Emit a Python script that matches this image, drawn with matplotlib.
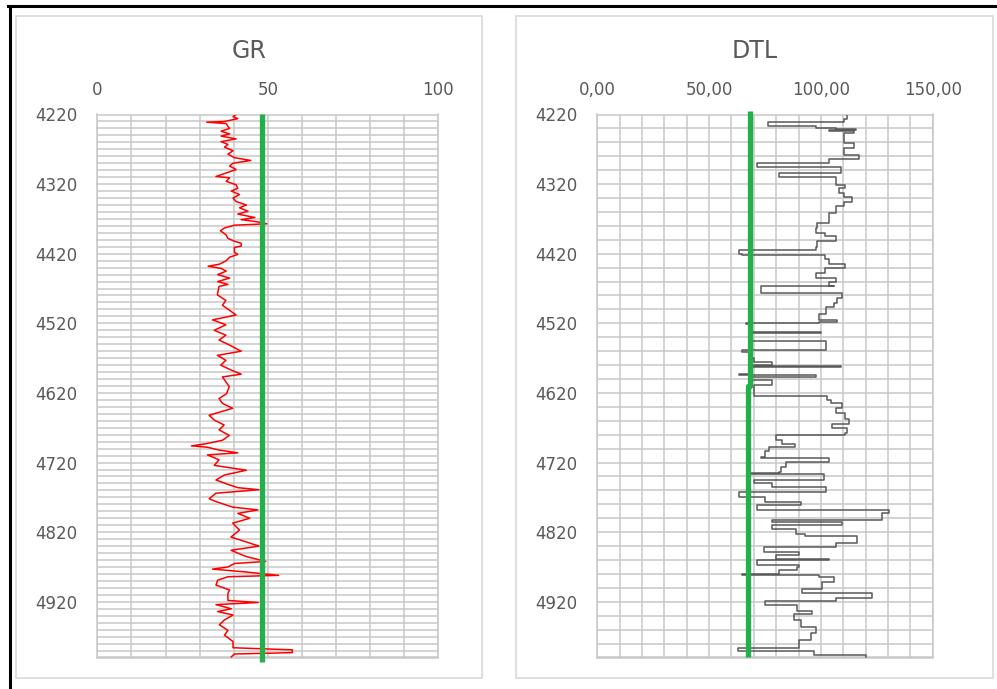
import matplotlib.pyplot as plt
from matplotlib.patches import Rectangle
from matplotlib.lines import Line2D
from matplotlib.ticker import FuncFormatter

# Gamma ray log: depth (m) and GR (API)
gr_depth = [4220, 4223, 4226, 4230, 4231, 4233, 4237, 4240, 4244, 4248, 4251, 4255,
            4259, 4263, 4267, 4272, 4277, 4282, 4286, 4290, 4294, 4299, 4304, 4309,
            4311, 4316, 4321, 4326, 4330, 4335, 4340, 4345, 4350, 4354, 4359, 4363,
            4368, 4371, 4374, 4377, 4379, 4383, 4387, 4393, 4398, 4402, 4405, 4409,
            4411, 4418, 4421, 4425, 4430, 4435, 4438, 4441, 4445, 4450, 4455, 4460,
            4464, 4467, 4479, 4487, 4494, 4501, 4508, 4515, 4522, 4530, 4537, 4544,
            4551, 4560, 4566, 4573, 4580, 4587, 4593, 4597, 4604, 4611, 4621, 4628,
            4635, 4642, 4652, 4659, 4666, 4673, 4681, 4688, 4693, 4696, 4698, 4702,
            4706, 4709, 4716, 4724, 4731, 4738, 4745, 4752, 4756, 4759, 4764, 4772,
            4776, 4784, 4788, 4793, 4800, 4807, 4817, 4827, 4834, 4840, 4846, 4855,
            4862, 4865, 4870, 4873, 4877, 4882, 4884, 4889, 4896, 4903, 4908, 4918,
            4921, 4924, 4930, 4934, 4939, 4946, 4953, 4961, 4968, 4977, 4986, 4989,
            4993, 4995, 4999]
gr_value = [40.7, 39.8, 41.2, 37.3, 32.1, 37.8, 38.3, 38.8, 36.3, 38.8, 36.3, 40.7,
            36.3, 38.3, 37.3, 39.8, 38.3, 40.2, 45.0, 39.8, 38.8, 40.7, 37.8, 34.8,
            38.8, 37.8, 40.7, 41.2, 39.3, 41.7, 39.8, 40.7, 43.7, 41.7, 44.2, 41.2,
            46.2, 42.2, 46.7, 49.7, 40.2, 37.3, 36.1, 37.8, 38.3, 40.2, 42.2, 42.2,
            40.2, 40.2, 41.2, 38.8, 37.8, 35.8, 32.5, 36.3, 37.8, 35.3, 38.8, 35.3,
            38.3, 35.7, 35.2, 37.7, 36.7, 38.7, 40.7, 33.8, 37.7, 34.3, 37.7, 35.7,
            38.7, 42.2, 35.2, 37.7, 36.2, 39.2, 42.2, 36.7, 37.7, 38.7, 37.9, 35.7,
            36.7, 39.7, 32.8, 34.3, 37.2, 35.7, 38.7, 36.7, 31.8, 27.6, 32.3, 35.7,
            41.2, 32.3, 35.7, 34.3, 43.7, 37.2, 34.8, 38.7, 41.2, 47.4, 34.8, 32.8,
            34.8, 39.7, 47.1, 41.2, 44.7, 39.7, 41.7, 39.2, 43.7, 47.4, 39.2, 43.7,
            49.4, 40.2, 38.3, 33.8, 43.2, 53.2, 38.3, 35.3, 34.8, 38.8, 38.3, 38.3,
            47.2, 34.8, 39.3, 35.3, 39.8, 37.3, 35.8, 38.3, 37.3, 39.8, 39.8, 57.2,
            57.2, 40.2, 39.3]
gr_cutoff = 48.3

# Sonic log: depth (m) and DTL (us/ft)
dtl_depth = [4220, 4227, 4231, 4231, 4236, 4236, 4239, 4241, 4242, 4243, 4247, 4259,
             4261, 4266, 4268, 4275, 4278, 4283, 4283.5, 4290, 4290, 4294, 4296, 4303,
             4304, 4309, 4310, 4318, 4321, 4326, 4333, 4339, 4345, 4352, 4362, 4369,
             4376, 4383, 4390, 4395, 4402, 4411, 4414, 4421, 4422, 4428, 4435, 4440,
             4448, 4455, 4460, 4466, 4466, 4476, 4476, 4484, 4491, 4496, 4506, 4515,
             4518, 4519, 4521, 4530, 4533, 4534, 4544, 4545, 4556, 4558, 4561, 4570,
             4575, 4580, 4581, 4583, 4593, 4594, 4597, 4601, 4609, 4623, 4624, 4630,
             4635, 4642, 4649, 4657, 4664, 4671, 4678, 4681, 4688, 4694, 4697, 4704,
             4712, 4714, 4719, 4726, 4733, 4735, 4736, 4745, 4750, 4755, 4762, 4769,
             4776, 4781, 4788, 4793, 4802, 4805, 4810, 4815, 4822, 4826, 4836, 4841,
             4848, 4853, 4858, 4860, 4867, 4870, 4875, 4880, 4882, 4885, 4891, 4901,
             4907, 4914, 4915, 4919, 4925, 4933, 4937, 4946, 4956, 4965, 4975, 4986,
             4990, 4997, 4999]
dtl_value = [111.8, 110.3, 110.3, 76.4, 76.4, 97.6, 106.6, 115.5, 103.6, 114.8, 110.3, 110.3,
             114.8, 114.8, 110.3, 110.3, 117.0, 117.0, 103.6, 103.6, 71.5, 71.5, 108.8, 108.8,
             81.2, 81.2, 106.6, 106.6, 111.0, 108.0, 110.3, 114.0, 110.3, 106.6, 103.6, 103.6,
             98.4, 97.6, 102.0, 106.6, 98.4, 98.0, 63.3, 64.8, 102.0, 103.6, 111.0, 102.0,
             97.6, 106.6, 103.6, 105.8, 73.0, 73.0, 109.6, 107.3, 105.8, 102.1, 99.1, 107.3,
             99.1, 66.3, 69.3, 69.3, 99.9, 69.3, 69.3, 102.1, 102.1, 64.8, 69.3, 70.0,
             78.2, 70.0, 108.8, 69.3, 63.3, 97.6, 69.3, 78.2, 70.0, 70.0, 102.8, 104.3,
             109.6, 106.6, 111.0, 112.5, 105.0, 111.8, 111.0, 80.0, 82.7, 88.4, 76.7, 75.2,
             73.0, 103.6, 84.2, 82.0, 81.2, 67.8, 101.3, 70.0, 78.2, 102.1, 63.3, 75.2,
             90.9, 71.5, 130.4, 127.5, 78.2, 109.6, 78.2, 88.7, 93.1, 116.3, 106.6, 74.5,
             90.1, 79.7, 103.6, 71.5, 90.1, 89.4, 81.2, 64.8, 99.1, 105.8, 100.6, 91.6,
             123.0, 123.0, 106.6, 74.9, 89.4, 96.1, 87.9, 90.9, 97.6, 95.4, 90.1, 63.0,
             96.9, 120.0, 120.0]
dtl_cut_depth = [4215, 4610, 4610, 5000]
dtl_cut_value = [68.5, 68.5, 67.5, 67.5]

depth_labels = [4220, 4320, 4420, 4520, 4620, 4720, 4820, 4920]

W, H = 997, 689
fig = plt.figure(figsize=(W / 100, H / 100), dpi=100)
fig.patch.set_facecolor('white')

text_col = '#595959'
grid_col = '#c8c8c8'
green = '#22b04b'


def px_axes(x0, y0, x1, y1):
    return fig.add_axes([x0 / W, 1 - y1 / H, (x1 - x0) / W, (y1 - y0) / H])


# chart frames
for x0, x1 in [(16, 482), (516, 993)]:
    fig.add_artist(Rectangle((x0 / W, 1 - 678 / H), (x1 - x0) / W, 662 / H,
                             transform=fig.transFigure, fill=False,
                             edgecolor='#d9d9d9', lw=1.2))
# window edge
fig.add_artist(Line2D([9.5 / W, 9.5 / W], [0, 1 - 6 / H], transform=fig.transFigure,
                      color='black', lw=2.2))
fig.add_artist(Line2D([8 / W, 1], [1 - 6 / H, 1 - 6 / H], transform=fig.transFigure,
                      color='black', lw=2.2))


def style(ax, xmax, xstep, ystep, xticks, fmt):
    ax.set_xlim(0, xmax)
    ax.set_ylim(5000, 4220)
    ax.xaxis.tick_top()
    ax.set_xticks(xticks)
    ax.set_xticks([v for v in range(0, xmax + 1, xstep)], minor=True)
    ax.set_yticks(depth_labels)
    ax.set_yticks(list(range(4220, 5001, ystep)), minor=True)
    ax.xaxis.set_major_formatter(FuncFormatter(fmt))
    ax.tick_params(which='both', length=0, colors=text_col, labelsize=12)
    ax.tick_params(axis='x', pad=11)
    ax.tick_params(axis='y', pad=14)
    ax.grid(which='both', color=grid_col, lw=1.1)
    ax.set_axisbelow(True)
    for s in ax.spines.values():
        s.set_color(grid_col)
        s.set_linewidth(1.1)


ax1 = px_axes(97.3, 114.5, 438.3, 657.5)
style(ax1, 100, 10, 10, [0, 50, 100], lambda v, p: f'{v:.0f}')
ax1.plot(gr_value, gr_depth, color='#ff0000', lw=1.1, zorder=3)
ax1.plot([gr_cutoff, gr_cutoff], [4220, 5007], color=green, lw=3.8,
         solid_capstyle='butt', clip_on=False, zorder=4)

ax2 = px_axes(597.3, 114.5, 932.7, 657.5)
style(ax2, 150, 10, 20, [0, 50, 100, 150],
      lambda v, p: f'{v:.2f}'.replace('.', ','))
ax2.plot(dtl_value, dtl_depth, color='#595959', lw=1.1, zorder=3,
         drawstyle='steps-pre')
ax2.plot(dtl_cut_value, dtl_cut_depth, color=green, lw=3.8,
         solid_capstyle='butt', clip_on=False, zorder=4)

fig.text(249 / W, 1 - 51.5 / H, 'GR', ha='center', va='center',
         fontsize=17, color=text_col)
fig.text(754.5 / W, 1 - 51.5 / H, 'DTL', ha='center', va='center',
         fontsize=17, color=text_col)

fig.savefig('out.png', dpi=100)
